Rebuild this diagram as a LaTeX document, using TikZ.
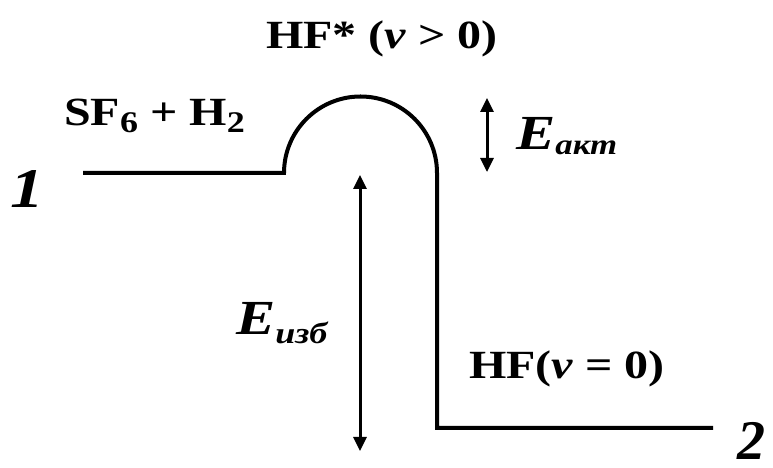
\documentclass[tikz,border=0pt]{standalone}
\usepackage{fontspec}
\usepackage{graphicx}
\setmainfont{Liberation Serif}
\usetikzlibrary{arrows.meta}
\newcommand{\fs}[1]{\fontsize{#1}{#1}\selectfont}
\newcommand{\lowsub}[3]{\raisebox{-#1pt}{\fs{#2}#3}}
\newcommand{\wtxt}[1]{\scalebox{1.2}[1]{#1}}
\begin{document}
\begin{tikzpicture}[x=1pt,y=1pt,
  curve/.style={line width=4pt},
  lbl/.style={anchor=base west, inner sep=0pt, font=\bfseries\fs{40}},
  elbl/.style={anchor=base west, inner sep=0pt, font=\bfseries\itshape\fs{49}},
  numlbl/.style={anchor=base west, inner sep=0pt, font=\bfseries\itshape\fs{56}},
  dblarrow/.style={line width=3pt, {Triangle[length=14pt,width=13pt]}-{Triangle[length=14pt,width=13pt]}}]
\useasboundingbox (0,0) rectangle (773,468);
% profile coordinates
\coordinate (l0) at (83,295);
\coordinate (l1) at (284,295);
\coordinate (r0) at (437,295);
\coordinate (r1) at (437,40);
\coordinate (r2) at (713,40);
\draw[curve] (l0) -- (l1) arc[start angle=180,end angle=0,radius=76.5] -- (r1) -- (r2);
% arrows
\coordinate (ei0) at (360,293);
\coordinate (ei1) at (360,17);
\coordinate (ea0) at (487,370);
\coordinate (ea1) at (487,296);
\draw[dblarrow] (ei0) -- (ei1);
\draw[dblarrow] (ea0) -- (ea1);
% labels
\node[numlbl] (n1) at (10,260) {\wtxt{1}};
\node[numlbl] (n2) at (737,9) {2};
\node[lbl] (hfs) at (266,419) {\wtxt{HF* (\textit{v} > 0)}};
\node[lbl] (sf) at (64,342) {\wtxt{SF\lowsub{7}{30}{6} + H\lowsub{7}{30}{2}}};
\node[lbl] (hf0) at (469,89) {\wtxt{HF(\textit{v} = 0)}};
\node[elbl] (eakt) at (516,318) {\wtxt{E\lowsub{5}{29}{акт}}};
\node[elbl] (eizb) at (236,133) {\wtxt{E\lowsub{9}{30}{изб}}};
\end{tikzpicture}
\end{document}
